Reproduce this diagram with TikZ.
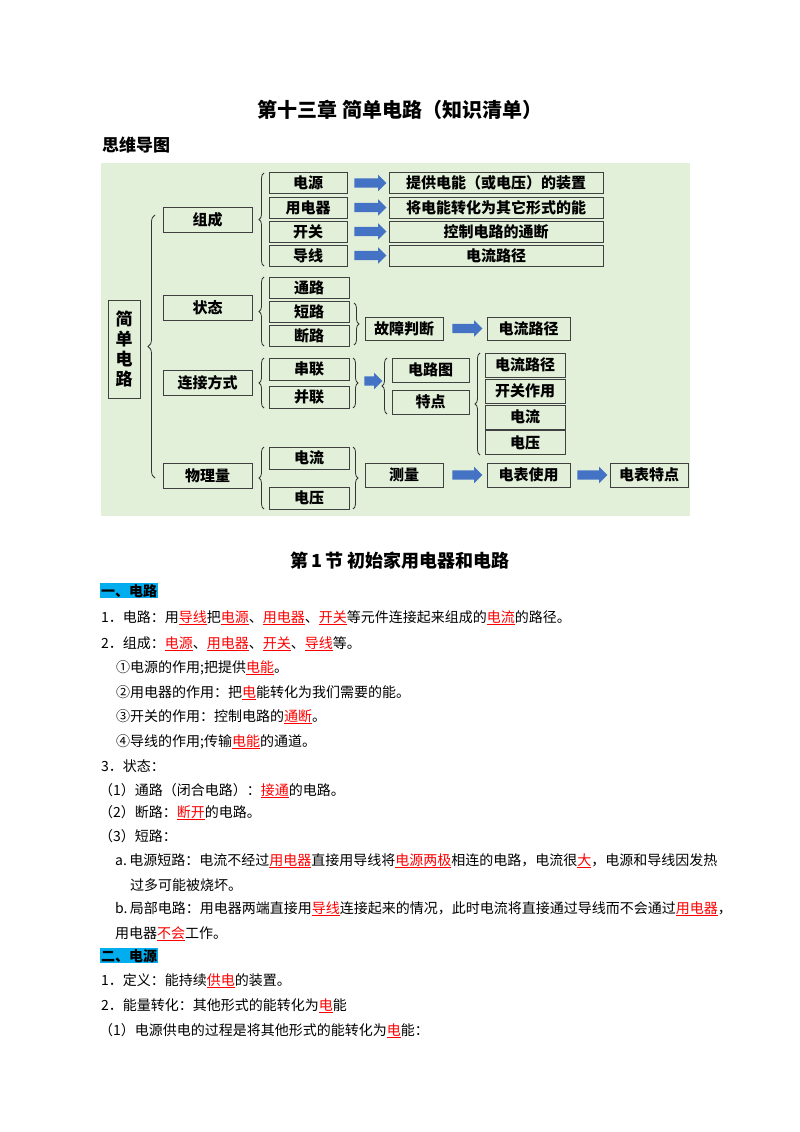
\documentclass[tikz,border=0pt]{standalone}
\usepackage{fontspec}
\usetikzlibrary{shapes.arrows,decorations.pathreplacing}
\newfontfamily\cjk{Noto Sans CJK SC}
\newcommand\rd[1]{\textcolor{red}{\underline{#1}}}
\newcommand\arwtxt{\rule{0pt}{9pt}}
\definecolor{mapbg}{HTML}{E2EFD9}
\definecolor{arrowblue}{HTML}{4472C4}
\begin{document}
\begin{tikzpicture}[x=1pt,y=-1pt,
 bx/.style={draw=black!75,line width=0.8pt,fill=mapbg,inner sep=0pt,font=\cjk\bfseries\fontsize{15}{17}\selectfont},
 arw/.style={single arrow,draw=none,fill=arrowblue,minimum height=32pt,single arrow head extend=3.5pt,single arrow tip angle=90,inner sep=0pt},
 brc/.style={decorate,decoration={brace,amplitude=5pt},line width=0.8pt,draw=black!80},
 txt/.style={anchor=base west,inner sep=0pt,font=\cjk\fontsize{14}{16}\selectfont},
 hd/.style={anchor=base west,inner sep=1pt,fill=cyan,font=\cjk\bfseries\fontsize{14}{16}\selectfont}]
\useasboundingbox (0,0) rectangle (800,1132);
\fill[white] (0,0) rectangle (800,1132);
\node[font=\cjk\bfseries\fontsize{20}{24}\selectfont] (title) at (400,110) {第十三章\ 简单电路（知识清单）};
\node[anchor=west,inner sep=0pt,font=\cjk\bfseries\fontsize{17}{20}\selectfont] (mm) at (102,145) {思维导图};
\fill[mapbg] (101,163) rectangle (690,516);
% main
\node[bx,minimum width=32pt,minimum height=98pt,align=center,font=\cjk\bfseries\fontsize{17}{20}\selectfont] (root) at (124,349) {简\\单\\电\\路};
\foreach \n/\t/\y in {zc/组成/219.5,zt/状态/307.5,lj/连接方式/382.5,wl/物理量/475.5}
  \node[bx,minimum width=89pt,minimum height=25pt] (\n) at (207.5,\y) {\t};
\foreach \n/\t/\r/\y in {c1/电源/提供电能（或电压）的装置/183,c2/用电器/将电能转化为其它形式的能/207.5,c3/开关/控制电路的通断/231.5,c4/导线/电流路径/255.5}{
  \node[bx,minimum width=78pt,minimum height=21pt] (\n) at (308,\y) {\t};
  \node[bx,minimum width=214pt,minimum height=21pt] (\n r) at (496,\y) {\r};
  \node[arw] (\n a) at (368,\y) {\arwtxt};
}
\foreach \n/\t/\y in {s1/通路/287.5,s2/短路/311.5,s3/断路/335.5}
  \node[bx,minimum width=80pt,minimum height=21pt] (\n) at (309,\y) {\t};
\node[bx,minimum width=78pt,minimum height=23pt] (gz) at (404,328.5) {故障判断};
\node[arw,minimum height=30pt] (ga) at (465,328.5) {\arwtxt};
\node[bx,minimum width=83pt,minimum height=23pt] (gl) at (528.5,328.5) {电流路径};
\node[bx,minimum width=80pt,minimum height=22pt] (cl) at (309,369) {串联};
\node[bx,minimum width=80pt,minimum height=22pt] (bl) at (309,397) {并联};
\node[arw,minimum height=18pt] (la) at (371,381) {\arwtxt};
\node[bx,minimum width=77pt,minimum height=24pt] (dlt) at (430.5,370) {电路图};
\node[bx,minimum width=77pt,minimum height=24pt] (td) at (430.5,402) {特点};
\foreach \n/\t/\y in {t1/电流路径/365,t2/开关作用/391,t3/电流/417,t4/电压/442.5}
  \node[bx,minimum width=80pt,minimum height=24pt] (\n) at (525,\y) {\t};
\node[bx,minimum width=80pt,minimum height=22pt] (p1) at (309,458) {电流};
\node[bx,minimum width=80pt,minimum height=22pt] (p2) at (309,498) {电压};
\node[bx,minimum width=78pt,minimum height=24pt] (cm) at (404,475) {测量};
\node[arw,minimum height=30pt] (ma) at (465,475) {\arwtxt};
\node[bx,minimum width=83pt,minimum height=24pt] (bs) at (528.5,475) {电表使用};
\node[arw,minimum height=30pt] (ba) at (590,475) {\arwtxt};
\node[bx,minimum width=78pt,minimum height=24pt] (bt) at (649,475) {电表特点};
% braces
\draw[brc,decoration={amplitude=7pt}] (155,478) -- (155,215);
\draw[brc] (264,266) -- (264,173);
\draw[brc] (264,346) -- (264,277);
\draw[brc] (354,303) -- (354,345);
\draw[brc] (264,408) -- (264,358);
\draw[brc] (353,358) -- (353,408);
\draw[brc] (387,414) -- (387,358);
\draw[brc] (480,455) -- (480,353);
\draw[brc] (264,509) -- (264,447);
\draw[brc] (353,447) -- (353,509);
% section
\node[font=\cjk\bfseries\fontsize{18}{22}\selectfont] (sec) at (400,561) {第\,1\,节\ 初始家用电器和电路};
\node[hd] (h1) at (100,596) {一、电路};
\node[txt] (l1) at (101,622) {1．电路：用\rd{导线}把\rd{电源}、\rd{用电器}、\rd{开关}等元件连接起来组成的\rd{电流}的路径。};
\node[txt] (l2) at (101,648) {2．组成：\rd{电源}、\rd{用电器}、\rd{开关}、\rd{导线}等。};
\node[txt] (l3) at (116,672) {①电源的作用;把提供\rd{电能}。};
\node[txt] (l4) at (116,697) {②用电器的作用：把\rd{电}能转化为我们需要的能。};
\node[txt] (l5) at (116,721) {③开关的作用：控制电路的\rd{通断}。};
\node[txt] (l6) at (116,746) {④导线的作用;传输\rd{电能}的通道。};
\node[txt] (l7) at (101,771) {3．状态：};
\node[txt] (l8) at (99,795) {（1）通路（闭合电路）：\rd{接通}的电路。};
\node[txt] (l9) at (99,817) {（2）断路：\rd{断开}的电路。};
\node[txt] (l10) at (99,841) {（3）短路：};
\node[txt] (l11) at (115,865) {a.\,电源短路：电流不经过\rd{用电器}直接用导线将\rd{电源两极}相连的电路，电流很\rd{大}，电源和导线因发热};
\node[txt] (l12) at (130,890) {过多可能被烧坏。};
\node[txt] (l13) at (115,913) {b.\,局部电路：用电器两端直接用\rd{导线}连接起来的情况，此时电流将直接通过导线而不会通过\rd{用电器}，};
\node[txt] (l14) at (115,938) {用电器\rd{不会}工作。};
\node[hd] (h2) at (100,961) {二、电源};
\node[txt] (l15) at (101,985) {1．定义：能持续\rd{供电}的装置。};
\node[txt] (l16) at (101,1010) {2．能量转化：其他形式的能转化为\rd{电}能};
\node[txt] (l17) at (99,1035) {（1）电源供电的过程是将其他形式的能转化为\rd{电}能：};
\end{tikzpicture}
\end{document}
